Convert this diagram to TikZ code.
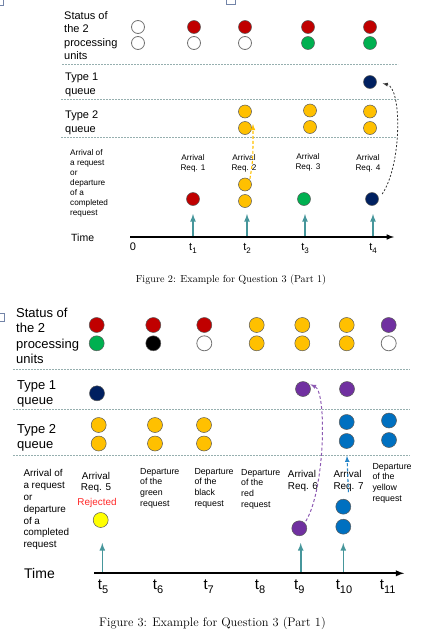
\documentclass[tikz,border=0pt]{standalone}
\usepackage{fontspec}
\newfontfamily\arial{Liberation Sans}
\usetikzlibrary{positioning}
\definecolor{cred}{RGB}{192,0,0}
\definecolor{cgreen}{RGB}{0,176,80}
\definecolor{cyel}{RGB}{255,192,0}
\definecolor{cnavy}{RGB}{0,32,96}
\definecolor{cpurp}{RGB}{112,48,160}
\definecolor{cblue}{RGB}{0,112,192}
\definecolor{clemon}{RGB}{255,255,0}
\definecolor{tealarr}{RGB}{70,150,155}
\definecolor{sepcol}{RGB}{150,175,175}
\newcommand{\tlab}[2]{t\raisebox{-0.55ex}{\fontsize{#1}{#1}\selectfont #2}}

\begin{document}
\begin{tikzpicture}[>=latex,x=1pt,y=-1pt,
  dot/.style={circle,draw=black!65,line width=0.5pt,inner sep=0pt,minimum size=13pt},
  wdot/.style={dot,draw=black!55,line width=0.8pt},
  bdot/.style={dot,minimum size=15pt},
  bwdot/.style={bdot,draw=black!55,line width=0.8pt},
  sepline/.style={draw=sepcol,dash pattern=on 1.6pt off 1.4pt,line width=0.6pt},
  tarrow/.style={->,draw=tealarr,line width=1.6pt},
  axis/.style={->,line width=1.5pt},
  txt/.style={inner sep=0pt,align=left,anchor=north west},
  ctxt/.style={inner sep=0pt,align=center,anchor=north},
  bigA/.style={font=\arial\fontsize{11}{13.4}\selectfont},
  smallA/.style={font=\arial\fontsize{8.2}{10}\selectfont},
  bigB/.style={font=\arial\fontsize{13}{15.5}\selectfont},
  smallB/.style={font=\arial\fontsize{9.9}{11.8}\selectfont},
  depB/.style={font=\arial\fontsize{8.8}{10.6}\selectfont}]
\useasboundingbox (0,0) rectangle (444,632);

% page marks
\draw[draw=cnavy!55,line width=0.6pt] (-1,-1) rectangle (3.5,5);
\draw[draw=cnavy!55,line width=0.6pt] (226.5,-1) rectangle (235.5,4);
\draw[draw=cnavy!55,line width=0.6pt] (-1,313) rectangle (4,321.5);

%%%%% Figure 2
\node[txt,bigA] (stA) at (64,11.4) {Status of\\the 2\\processing\\units};
\node[txt,bigA] (q1A) at (65,73.1) {Type 1\\queue};
\node[txt,bigA] (q2A) at (65,111.1) {Type 2\\queue};
\node[txt,smallA] (evA) at (70,149.8) {Arrival of\\a request\\or\\departure\\of a\\completed\\request};

\draw[sepline] (62,64.5) -- (398,64.5);
\draw[sepline] (61,99) -- (399,99);
\draw[sepline] (61,137.5) -- (397,137.5);

% processing units
\node[wdot] (s1a) at (138,27) {};
\node[wdot] (s1b) at (138,43) {};
\node[dot,fill=cred] (s2a) at (194,27) {};
\node[wdot] (s2b) at (194,43) {};
\node[dot,fill=cred] (s3a) at (245,27) {};
\node[wdot] (s3b) at (245,43) {};
\node[dot,fill=cred] (s4a) at (308,27) {};
\node[dot,fill=cgreen] (s4b) at (308,43) {};
\node[dot,fill=cred] (s5a) at (370,27) {};
\node[dot,fill=cgreen] (s5b) at (370,43) {};

% queues
\node[dot,fill=cnavy] (qa5) at (370,82) {};
\node[dot,fill=cyel] (qb3a) at (245,111.5) {};
\node[dot,fill=cyel] (qb3b) at (245,128) {};
\node[dot,fill=cyel] (qb4a) at (310,110.5) {};
\node[dot,fill=cyel] (qb4b) at (310,127) {};
\node[dot,fill=cyel] (qb5a) at (370,111.5) {};
\node[dot,fill=cyel] (qb5b) at (370,128) {};

% requests
\node[ctxt,smallA] (rq1) at (193,154) {Arrival\\Req. 1};
\node[ctxt,smallA] (rq2) at (244,154) {Arrival\\Req. 2};
\node[ctxt,smallA] (rq3) at (308,153) {Arrival\\Req. 3};
\node[ctxt,smallA] (rq4) at (368,154) {Arrival\\Req. 4};
\node[dot,fill=cred] (ra1) at (193,199) {};
\node[dot,fill=cyel] (ra2a) at (245,184.5) {};
\node[dot,fill=cyel] (ra2b) at (245,201) {};
\node[dot,fill=cgreen] (ra3) at (304,199) {};
\node[dot,fill=cnavy] (ra4) at (372,199) {};

\coordinate (q2in) at (253,124);
\draw[->,cyel,line width=1.1pt,dash pattern=on 3pt off 2pt,shorten <=1pt] (ra2a.north east) .. controls (253,160) .. (q2in);
\draw[->,black!80,line width=0.8pt,dash pattern=on 2pt off 1.8pt,shorten <=6pt,shorten >=6pt]
  (ra4.east) .. controls (402,165) and (402,88) .. (qa5.east);

% time axis
\foreach \n/\x in {1/193,2/247,3/305,4/373}{
  \coordinate (up\n) at (\x,237);
  \coordinate (hd\n) at (\x,214);
  \draw[tarrow] (up\n) -- (hd\n);
  \node[anchor=base,inner sep=0pt,font=\arial\fontsize{11}{13}\selectfont] (t\n) at (\x,250.7) {\tlab{8}{\n}};
}
\coordinate (axA0) at (130,237);
\coordinate (axA1) at (394,237);
\draw[axis] (axA0) -- (axA1);
\node[anchor=base,inner sep=0pt,font=\arial\fontsize{11}{13}\selectfont] (t0) at (133,250.7) {0};
\node[anchor=base west,inner sep=0pt,font=\arial\fontsize{10.5}{12}\selectfont] (timeA) at (71,241.7) {Time};
\node[anchor=base,inner sep=0pt,font=\fontsize{10.2}{12}\selectfont] (capA) at (231,282.7) {Figure 2: Example for Question 3 (Part 1)};

%%%%% Figure 3
\node[txt,bigB] (stB) at (16,307.4) {Status of\\the 2\\processing\\units};
\node[txt,bigB] (q1B) at (17,380) {Type 1\\queue};
\node[txt,bigB] (q2B) at (17,424) {Type 2\\queue};
\node[txt,smallB] (evB) at (23.3,469.6) {Arrival of\\a request\\or\\departure\\of a\\completed\\request};

\draw[sepline] (13,369.5) -- (410,369.5);
\draw[sepline] (13,409) -- (410,409);
\draw[sepline] (13,455) -- (410,455);

% processing units
\node[bdot,fill=cred] (u5a) at (96.7,325) {};
\node[bdot,fill=cgreen] (u5b) at (96.7,343.3) {};
\node[bdot,fill=cred] (u6a) at (153.3,325) {};
\node[bdot,fill=black] (u6b) at (153.3,343.3) {};
\node[bdot,fill=cred] (u7a) at (204.3,325) {};
\node[bwdot] (u7b) at (204.3,343.3) {};
\node[bdot,fill=cyel] (u8a) at (256.7,325) {};
\node[bdot,fill=cyel] (u8b) at (256.7,343.3) {};
\node[bdot,fill=cyel] (u9a) at (302.3,325) {};
\node[bdot,fill=cyel] (u9b) at (302.3,343.3) {};
\node[bdot,fill=cyel] (u10a) at (346.7,325) {};
\node[bdot,fill=cyel] (u10b) at (346.7,343.3) {};
\node[bdot,fill=cpurp] (u11a) at (388.7,325) {};
\node[bwdot] (u11b) at (388.7,343.3) {};

% queues
\node[bdot,fill=cnavy] (qc5) at (97,393.3) {};
\node[bdot,fill=cpurp] (qc9) at (303,389) {};
\node[bdot,fill=cpurp] (qc10) at (347,389) {};
\node[bdot,fill=cyel] (qd5a) at (98.7,425) {};
\node[bdot,fill=cyel] (qd5b) at (98.7,443.5) {};
\node[bdot,fill=cyel] (qd6a) at (155,425) {};
\node[bdot,fill=cyel] (qd6b) at (155,443.5) {};
\node[bdot,fill=cyel] (qd7a) at (204,425) {};
\node[bdot,fill=cyel] (qd7b) at (204,443.5) {};
\node[bdot,fill=cblue] (qd10a) at (346.7,422) {};
\node[bdot,fill=cblue] (qd10b) at (346.7,441) {};
\node[bdot,fill=cblue] (qd11a) at (389,420.5) {};
\node[bdot,fill=cblue] (qd11b) at (389,440) {};

% events
\node[ctxt,smallB] (rq5) at (96,471.7) {Arrival\\Req. 5};
\node[anchor=base,inner sep=0pt,font=\arial\fontsize{9.9}{11.8}\selectfont,text={rgb,255:red,255;green,40;blue,40}] (rej) at (97,505) {Rejected};
\node[txt,depB] (dp6) at (140,468) {Departure\\of the\\green\\request};
\node[txt,depB] (dp7) at (194.3,468) {Departure\\of the\\black\\request};
\node[txt,depB] (dp8) at (241,469) {Departure\\of the\\red\\request};
\node[txt,smallB] (rq6) at (287.7,470) {Arrival\\Req. 6};
\node[txt,smallB] (rq7) at (333.3,470) {Arrival\\Req. 7};
\node[txt,depB] (dp11) at (372.3,463) {Departure\\of the\\yellow\\request};

\node[bdot,fill=clemon] (rb5) at (100.7,520) {};
\node[bdot,fill=cpurp] (rb9) at (299.3,528.3) {};
\node[bdot,fill=cblue] (rb10a) at (343.3,506.7) {};
\node[bdot,fill=cblue] (rb10b) at (343.3,526.7) {};

\draw[->,cpurp!80,line width=1pt,dash pattern=on 3pt off 2.2pt,shorten <=2pt,shorten >=2pt]
  (rb9.north east) .. controls (325,490) and (327,392) .. (qc9.north east);
\draw[->,cblue!85,line width=1.1pt,dash pattern=on 3pt off 2.2pt,shorten <=9pt,shorten >=7pt]
  (rb10a.north east) -- (qd10b.south);

% time axis
\foreach \n/\x in {5/102.3,9/300.7,10/343.3}{
  \coordinate (vp\n) at (\x,573.3);
  \coordinate (vh\n) at (\x,543);
  \draw[tarrow] (vp\n) -- (vh\n);
}
\coordinate (axB0) at (94.3,573.3);
\coordinate (axB1) at (404,573.3);
\draw[axis,line width=1.8pt] (axB0) -- (axB1);
\foreach \n/\x in {5/103,6/158,7/208.7,8/260,9/299.3,10/344,11/387.7}
  \node[anchor=base,inner sep=0pt,font=\arial\fontsize{15}{17}\selectfont] (t\n) at (\x,589.5) {\tlab{11}{\n}};
\node[anchor=base west,inner sep=0pt,font=\arial\fontsize{14}{16}\selectfont] (timeB) at (24,578.3) {Time};
\node[anchor=base,inner sep=0pt,font=\fontsize{12.4}{14}\selectfont] (capB) at (212.5,626.7) {Figure 3: Example for Question 3 (Part 1)};
\end{tikzpicture}
\end{document}
